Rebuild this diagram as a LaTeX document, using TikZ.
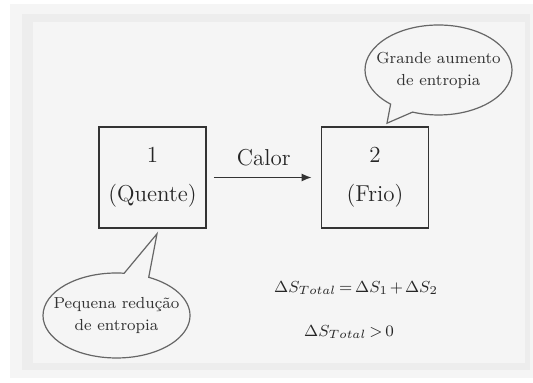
\documentclass[tikz,border=0pt]{standalone}
\usepackage{amsmath,amssymb}
\usepackage{tikz}
\usetikzlibrary{arrows.meta,positioning,shapes,shapes.callouts}

\begin{document}
\begin{tikzpicture}[x=0.5pt, y=-0.5pt,
  sysbox/.style={rectangle, draw=black!80, line width=0.8pt, minimum width=53.5pt, minimum height=50.5pt, align=center, text=black!85, font=\fontsize{11.5}{19.5}\selectfont},
  bubble/.style={ellipse callout, draw=black!60, line width=0.6pt, inner xsep=-14pt, inner ysep=0pt, align=center, text=black!80, font=\fontsize{8}{11}\selectfont, minimum width=73.5pt, minimum height=45pt, callout pointer arc=20},
  eqn/.style={text=black!85, font=\fontsize{8.5}{11}\selectfont}]
  % fundo com sombra
  \useasboundingbox (0,0) rectangle (533,383);
  \fill[white] (0,0) rectangle (533,383);
  \fill[black!4] (10,4) rectangle (533,378);
  \fill[black!7] (22,14) rectangle (530,370);
  \fill[black!4] (33,22) rectangle (525,363);
  \node[sysbox] (q) at (152.5,177.5) {1\\(Quente)};
  \node[sysbox] (f) at (375,177.5) {2\\(Frio)};
  \draw[-{Latex[length=5pt,width=4pt]}, line width=0.8pt, black!80, shorten <=3.5pt, shorten >=4.5pt] (q) -- node[above=2pt, text=black!85, font=\fontsize{11.5}{14}\selectfont] (calor) {Calor} (f);
  \node[bubble, callout absolute pointer={([xshift=6pt,yshift=1.5pt]f.north)}] (aumento) at (438.5,70) {Grande aumento\\de entropia};
  \node[bubble, minimum height=42.5pt, callout absolute pointer={([xshift=2.25pt,yshift=-2.5pt]q.south)}] (reducao) at (116.5,315.5) {Pequena redução\\de entropia};
  \node[eqn] (soma) at (356,288) {$\medmuskip=2mu \thickmuskip=3mu \Delta S_{Total} = \Delta S_1 + \Delta S_2$};
  \node[eqn] (total) at (349,332) {$\thickmuskip=3mu \Delta S_{Total} > 0$};
\end{tikzpicture}
\end{document}
